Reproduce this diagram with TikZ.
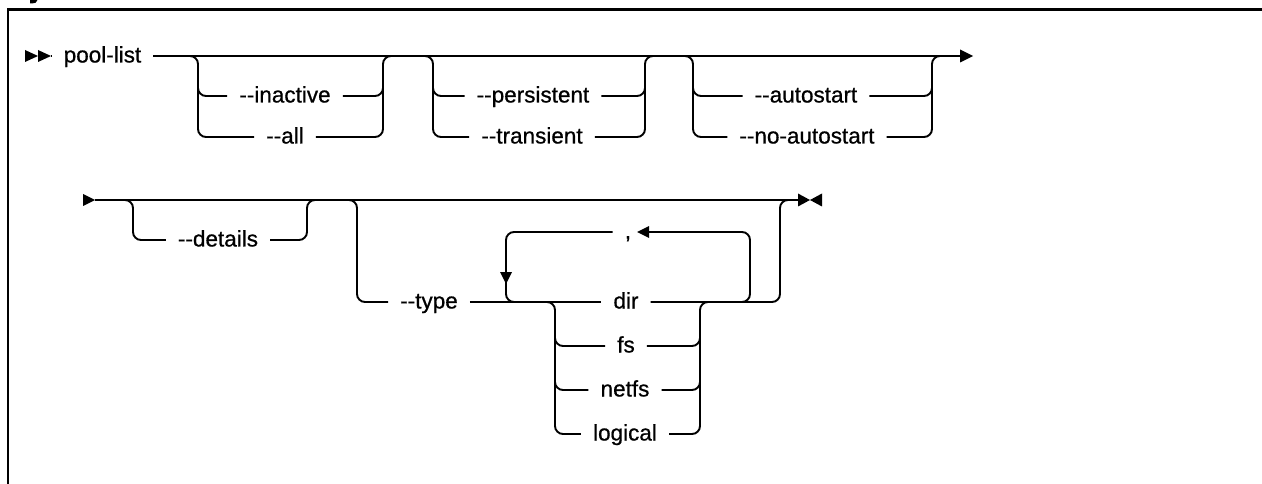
\documentclass[tikz,border=0pt]{standalone}
\usepackage{fontspec}
\setmainfont{Liberation Sans}[Ligatures=TeXOff,FakeBold=0.7]
\begin{document}
\begin{tikzpicture}[x=1pt,y=-1pt,
  rr/.style={line width=1.9pt, rounded corners=8pt},
  lbl/.style={font=\fontsize{22.5}{26}\selectfont, inner xsep=12pt, inner ysep=0pt, text height=13pt, text depth=0pt},
  frame/.style={line width=2.6pt},
  tip/.style={fill=black}]
\useasboundingbox[fill=white] (0,0) rectangle (1262,484);
% frame
\draw[frame] (7.8,484) -- (7.8,9.5) -- (1262,9.5);
\fill (30,0) -- (37.5,0) .. controls (37,2.5) and (35,3.5) .. (32,3.5) -- (30,3.5) -- cycle;

% ---------- row 1 ----------
\node[lbl] (pool) at (102.5,56) {pool-list};
\fill[tip] (25,50) -- (38,56) -- (25,62) -- cycle;
\fill[tip] (38,50) -- (51,56) -- (38,62) -- cycle;
\coordinate (s1) at (51,56);
\coordinate (e1) at (960,56);
\draw[rr] (s1) -- (pool.west);
\draw[rr] (pool.east) -- (e1);
\fill[tip] (960,49.5) -- (973,56) -- (960,62.5) -- cycle;

% group 1
\node[lbl] (inactive) at (285,96) {--inactive};
\node[lbl] (all) at (285,137) {--all};
\draw[rr] (186,56) -- (198,56) -- (198,137) -- (all.west);
\draw[rr] (198,80) -- (198,96) -- (inactive.west);
\draw[rr] (all.east) -- (383,137) -- (383,56) -- (395,56);
\draw[rr] (inactive.east) -- (383,96) -- (383,80);

% group 2
\node[lbl] (persistent) at (533,96) {--persistent};
\node[lbl] (transient) at (532,137) {--transient};
\draw[rr] (421,56) -- (433,56) -- (433,137) -- (transient.west);
\draw[rr] (433,80) -- (433,96) -- (persistent.west);
\draw[rr] (transient.east) -- (645,137) -- (645,56) -- (657,56);
\draw[rr] (persistent.east) -- (645,96) -- (645,80);

% group 3
\node[lbl] (autostart) at (806,96) {--autostart};
\node[lbl] (noauto) at (807,137) {--no-autostart};
\draw[rr] (681,56) -- (693,56) -- (693,137) -- (noauto.west);
\draw[rr] (693,80) -- (693,96) -- (autostart.west);
\draw[rr] (noauto.east) -- (932,137) -- (932,56) -- (944,56);
\draw[rr] (autostart.east) -- (932,96) -- (932,80);

% ---------- row 2 ----------
\fill[tip] (83,194) -- (95,200) -- (83,206) -- cycle;
\coordinate (s2) at (95,200);
\coordinate (e2) at (798,200);
\draw[rr] (s2) -- (e2);
\fill[tip] (798,193.5) -- (810,200) -- (798,206.5) -- cycle;
\fill[tip] (822,193.5) -- (810,200) -- (822,206.5) -- cycle;

% details
\node[lbl] (details) at (218,240) {--details};
\draw[rr] (121,200) -- (133,200) -- (133,240) -- (details.west);
\draw[rr] (details.east) -- (307,240) -- (307,200) -- (319,200);

% type
\node[lbl] (type) at (429,302) {--type};
\node[lbl] (dir) at (626,302) {dir};
\node[lbl] (fs) at (626,346) {fs};
\node[lbl] (netfs) at (625,390) {netfs};
\node[lbl] (logical) at (625,434) {logical};
\node[lbl] (comma) at (628,232) {,};
\draw[rr] (345,200) -- (357,200) -- (357,302) -- (type.west);
\draw[rr] (type.east) -- (dir.west);
% repeat loop
\draw[rr] (comma.west) -- (506,232) -- (506,302) -- (520,302);
\fill[tip] (500,272) -- (512,272) -- (506,284) -- cycle;
\fill[tip] (649,226) -- (637,232) -- (649,238) -- cycle;
\draw[rr] (649,232) -- (750,232) -- (750,302) -- (735,302);
% choice
\draw[rr] (541,302) -- (555,302) -- (555,434) -- (logical.west);
\draw[rr] (555,330) -- (555,346) -- (fs.west);
\draw[rr] (555,374) -- (555,390) -- (netfs.west);
\draw[rr] (logical.east) -- (700,434) -- (700,302) -- (714,302);
\draw[rr] (fs.east) -- (700,346) -- (700,330);
\draw[rr] (netfs.east) -- (700,390) -- (700,374);
\draw[rr] (dir.east) -- (780,302) -- (780,200) -- (792,200);
\end{tikzpicture}
\end{document}
